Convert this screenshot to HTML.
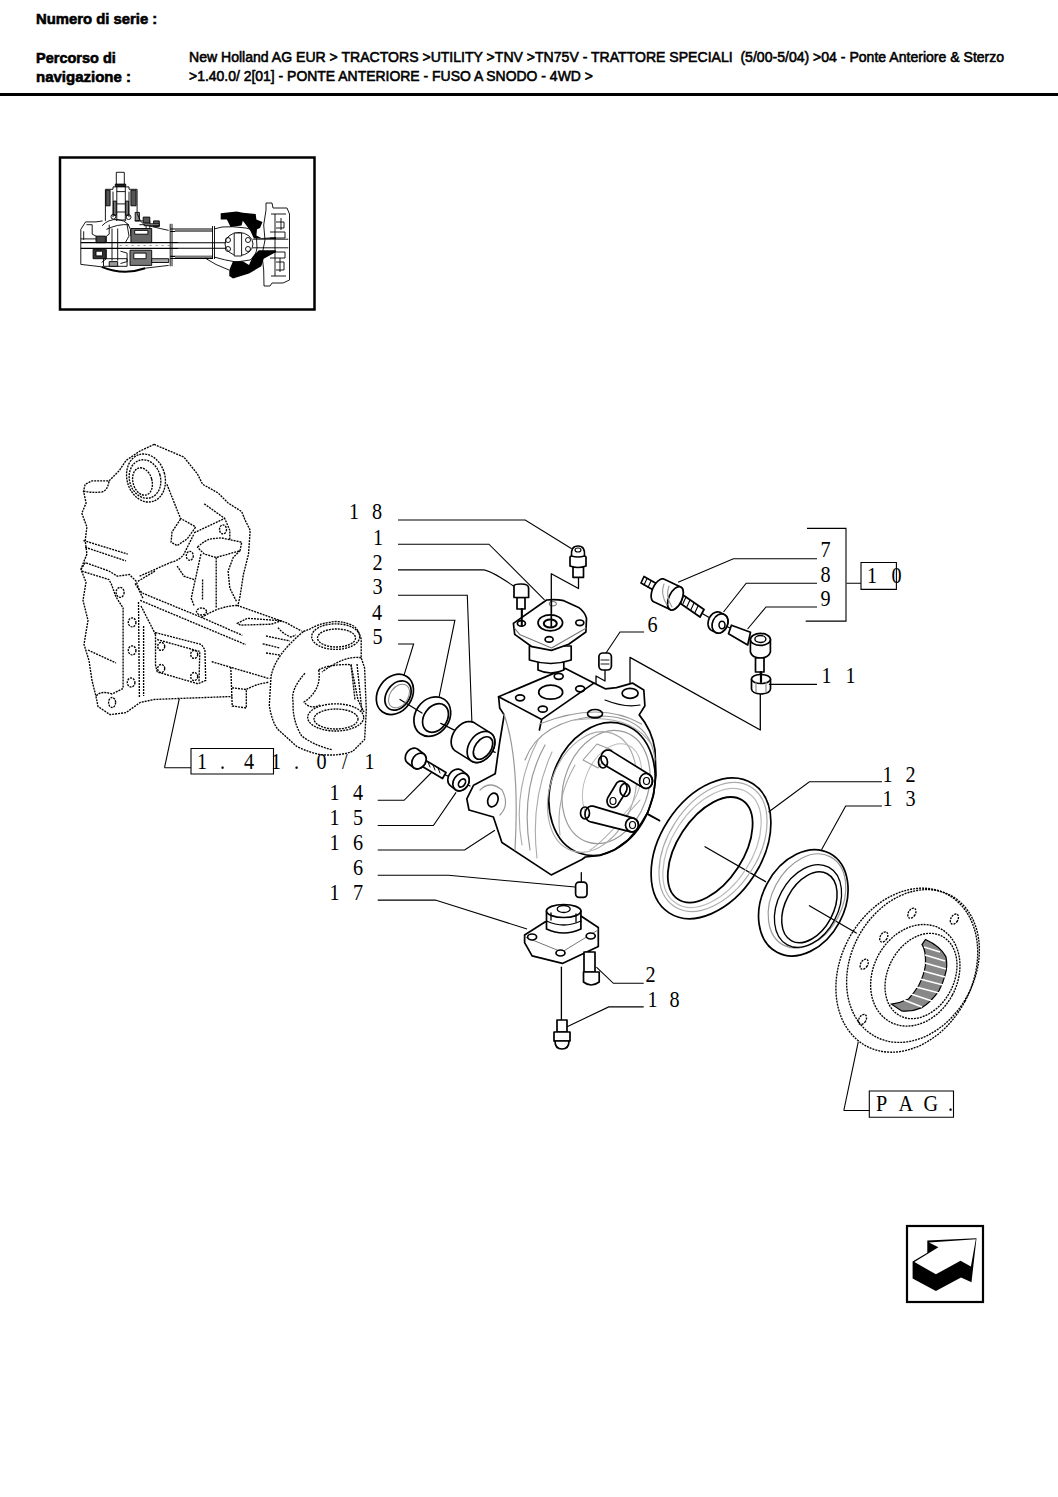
<!DOCTYPE html>
<html><head><meta charset="utf-8">
<style>
html,body{margin:0;padding:0;background:#fff;width:1058px;height:1497px;overflow:hidden;position:relative}
.t{position:absolute;white-space:pre;font-family:"Liberation Sans",sans-serif;font-size:15px;line-height:17px;color:#000;transform-origin:0 0;-webkit-text-stroke:0.6px #000}
.b{font-weight:bold}
#rule{position:absolute;left:0;top:93px;width:1058px;height:3px;background:#000}
svg{position:absolute;left:0;top:0}
</style></head><body>
<span class="t b" style="left:36px;top:10px;transform:scaleX(0.99)">Numero di serie :</span>
<span class="t b" style="left:36px;top:49px;transform:scaleX(0.968)">Percorso di</span>
<span class="t b" style="left:36px;top:68px;transform:scaleX(0.999)">navigazione :</span>
<span class="t" style="left:189px;top:48px;transform:scaleX(0.937)">New Holland AG EUR &gt; TRACTORS &gt;UTILITY &gt;TNV &gt;TN75V - TRATTORE SPECIALI  (5/00-5/04) &gt;04 - Ponte Anteriore &amp; Sterzo</span>
<span class="t" style="left:189px;top:67px;transform:scaleX(0.93)">&gt;1.40.0/ 2[01] - PONTE ANTERIORE - FUSO A SNODO - 4WD &gt;</span>
<div id="rule"></div>
<svg width="1058" height="1497" viewBox="0 0 1058 1497">
<!-- thumbnail frame -->
<g id="thumb">
<path d="M60,157.5 H314.5 V309.5 H60 Z" fill="none" stroke="#000" stroke-width="2.5"/>
<g fill="none" stroke="#000" stroke-width="0.9">
<!-- pinion -->
<g stroke="#000" stroke-width="0.9" fill="none">
<path d="M116.3,172.3 H124.3 V184.5 H116.3 Z"/>
<path d="M115.3,184.1 H125.7 V186.4 H115.3 Z" fill="#222"/>
<path d="M116.8,186.4 L116.8,220.9"/>
<path d="M125.3,186.4 L125.3,220.9"/>
<path d="M116.8,191.6 L125.3,191.6"/>
<path d="M116.8,203.9 L125.3,203.9"/>
<path d="M116.8,212.0 L125.3,212.0"/>
<path d="M115.8,220.0 L126.2,220.0"/>
<path d="M105.4,220.9 L105.4,189.3 L113.0,189.3 L113.0,186.9 L129.0,186.9 L129.0,189.3 L137.1,189.3 L137.1,213.4"/>
<path d="M105.9,190.2 H110.1 V205.8 H105.9 Z" fill="#555"/>
<path d="M130.9,190.2 H136.1 V205.8 H130.9 Z" fill="#555"/>
<path d="M113.0,191.6 L113.0,217.1"/>
<path d="M129.0,191.6 L129.0,217.1"/>
<path d="M113.4,201.1 H116.3 V215.3 H113.4 Z" fill="#777"/>
<path d="M125.7,201.1 H128.6 V215.3 H125.7 Z" fill="#777"/>
<circle cx="113.4" cy="216.7" r="2.4"/>
<circle cx="128.6" cy="217.1" r="2.4"/>
<path d="M135.2,212.4 H139.4 V220.9 H135.2 Z" fill="#888"/>
<path d="M102.1,225.7 Q108.2,219.0 117.7,219.5 Q131.9,220.9 130.9,236.1"/>
<path d="M106.4,229.4 Q117.7,223.8 129.0,224.7"/>
<path d="M109.2,224.7 L109.2,234.2 L106.4,236.1 L106.4,242.7"/>
<path d="M127.1,224.7 L129.0,236.1 L125.3,242.7"/>
<path d="M130.9,228.5 H151.7 V242.7 H130.9 Z" fill="#666"/>
<path d="M134.7,230.4 H147.9 V234.2 H134.7 Z" fill="#fff"/>
<path d="M130.0,250.2 H151.7 V265.4 H130.0 Z" fill="#777"/>
<path d="M133.8,253.1 H146.1 V258.7 H133.8 Z" fill="#fff"/>
<path d="M134.7,220.9 L149.8,220.9 L149.8,228.5"/>
<path d="M139.4,224.7 L146.1,224.7 L146.1,228.5"/>
<path d="M80.8,264.4 L80.8,229.4 L85.6,221.9 L96.0,221.9 L102.6,220.9"/>
<path d="M86.5,224.7 L92.2,224.7 L92.2,234.2 L96.0,236.1"/>
<path d="M96.0,236.1 H105.4 V242.7 H96.0 Z" fill="#444"/>
<path d="M93.1,249.3 H105.4 V258.7 H93.1 Z" fill="#333"/>
<path d="M96.0,251.2 H102.6 V255.9 H96.0 Z" fill="#fff"/>
<path d="M83.7,231.3 L83.7,239.8"/>
<path d="M80.8,238.9 L96.0,238.9"/>
<path d="M106.4,249.3 L106.4,258.7 L101.6,262.5"/>
<path d="M112.0,228.5 L112.0,260.6"/>
<path d="M117.7,228.5 L117.7,260.6"/>
<path d="M103.5,258.7 H127.1 V266.3 H103.5 Z"/>
<path d="M109.2,261.6 H117.7 V266.3 H109.2 Z" fill="#999"/>
<path d="M120.5,251.2 L127.1,253.1 L127.1,261.6 L120.5,263.5"/>
<path d="M101.6,266.8 Q123.4,275.8 145.1,268.2" stroke-width="2"/>
<path d="M80.8,264.4 L101.6,266.8"/>
<path d="M145.1,268.2 L168.7,265.4"/>
<path d="M137.1,213.4 L140.4,220.9 L144.2,224.7 L160.2,228.5 L168.7,230.4"/>
<path d="M143.2,217.1 H149.8 V222.8 H143.2 Z" fill="#555"/>
<path d="M153.6,220.9 H159.3 V226.6 H153.6 Z" fill="#555"/>
<path d="M144.2,223.8 H159.3 V225.7 H144.2 Z" fill="#999"/>
<path d="M80.8,242.7 L178.0,242.7" stroke-width="1.2"/>
<path d="M80.8,248.3 L178.0,248.3" stroke-width="1.2"/>
<path d="M119.6,245.5 L170.6,245.5" stroke="#888" stroke-dasharray="2 4"/>
<path d="M170.2,223.8 L170.2,266.3"/>
<path d="M172.0,223.8 L172.0,266.3"/>
<path d="M151.7,258.7 H168.7 V262.5 H151.7 Z" fill="#aaa"/>
</g>
<!-- tube -->
<path d="M178,242.7 H226 M178,248.3 H226" stroke-width="1.1"/>
<path d="M170.2,229 H213 M170.2,231.5 H213 M170.2,256.4 H213 M170.2,258.5 H213" stroke-width="1.1"/>
<path d="M175,230 H213 V232 H175 Z" fill="#777" stroke="none"/>
<path d="M175,256 H213 V258 H175 Z" fill="#777" stroke="none"/>
<path d="M212.5,226 V259 M214.5,226 V259"/>
<!-- joint housing -->
<path d="M214,229 L222,227 Q232,226 246,228 L253,230 Q258,238 257,248 Q256,256 250,260 L236,262 Q224,260 214,257"/>
<ellipse cx="239" cy="244" rx="14" ry="11.5"/>
<path d="M234.2,233 H241.6 V256 H234.2 Z" fill="#fff"/>
<circle cx="228" cy="240" r="2.5"/><circle cx="228" cy="249" r="2.5"/>
<circle cx="248" cy="240" r="2.5"/><circle cx="248" cy="249" r="2.5"/>
<path d="M252.7,239.2 H288.3 M252.7,247.8 H288.3"/>
<path d="M205,258 Q215,265 229,270"/>
<!-- hub -->
<path d="M266,203 H272 L273,208 H287 L289.5,214 V280 L283,283 H272 L270,286 H264 L263.7,270 L262,255 L265,240 L263.7,225 L266,210 Z"/>
<path d="M271,214 H286 M271,276 H286 M275,214 V276 M281,218 V230 M280,258 V272"/>
<path d="M270,232 H285 V238 H270 M270,252 H285 V258 H270"/>
<path d="M276,222 H284 V228 H276 M276,262 H284 V270 H276"/>
</g>
<!-- black knuckle blobs -->
<path d="M220.7,213.3 L236.7,211.5 L242.8,212.7 L255.7,214 L256.4,219.5 L262.5,222 L260,228 L257,229.3 L256.4,235.5 L261.3,237.9 L276,237.3 L276,239 L253.9,238.5 L250.2,230.5 L242.8,220.7 L241.6,225.6 L230.6,226.9 L226.9,219.5 L220.7,219.5 Z" fill="#000"/>
<path d="M229.3,269.9 L233,261.3 L242.8,261.3 L249,265 L252.7,256.4 L258.8,250.2 L276,250.2 L276,252 L263.7,258.8 L261.3,266.2 L249,273.6 L233,278.5 L229.3,276 Z" fill="#000"/>
</g>


<!-- housing (dotted) -->
<g id="housing" fill="none" stroke="#000" stroke-width="1.35" stroke-dasharray="2 1" stroke-linejoin="round">
<path d="M154.1,444.4 L183.9,457.1 L197.5,474.1 L202.6,484.3 L217.9,492.8 L228.1,503 L241.7,511.6 L245.1,520.1 L250.2,530.3 L248.5,554.1 L243.4,574.5 L240,596.6 L237.8,605.6 L286,622.6 L301.6,631.1"/>
<path d="M154.1,444.4 L139.6,451.2 L126,460.5 L119.2,470.7 L109,480.9 L92,480.9 L85.2,484.3 L83.5,491.1 L86.1,503 L81.8,513.3 L86.9,526.9 L85.2,540.5 L86.9,554.1 L83.5,562.6 L81,569.4 L86,582.3 L83,600.3 L88,620.4 L84,644.4 L89,660.5 L92,680.5 L96,696.5 L98,706.5 L110,714.6 L126.1,712.6 L140.1,702.5 L154.2,699.5 L178.2,698.5 L232.3,696.5"/>
<path d="M83.5,491.1 Q92,493 102,492 Q108,490 109,480.9"/>
<ellipse cx="146" cy="478" rx="19" ry="24.4" transform="rotate(-16 146 478)"/>
<ellipse cx="145" cy="479" rx="15.5" ry="19.5" transform="rotate(-16 145 479)"/>
<ellipse cx="142.5" cy="481.5" rx="9.5" ry="14" transform="rotate(-16 142.5 481.5)"/>
<path d="M166.9,484.3 L180.5,518.4 L195.8,526.9"/>
<path d="M180.5,519.2 L172,532 L171.1,542.2 L177.1,545.6 L187.3,538.8 L195.8,526.9"/>
<path d="M204.3,503.9 L224.7,518.4"/>
<path d="M194.1,532.8 L224.7,518.4 L229.8,530.3 L229.8,540.5"/>
<ellipse cx="223" cy="529.4" rx="3.5" ry="4.5"/>
<path d="M170.3,562.6 Q180,560 183.9,554.1 L194.1,533.7"/>
<ellipse cx="189.8" cy="555.8" rx="3.5" ry="4.5"/>
<path d="M177.1,566 L183.9,576.2 L194.1,579.6"/>
<path d="M197.5,547.3 Q205,540 211.1,538.8 L221.3,537.9 L241.7,542.2 L240,550.7 L216.2,557.5 L204.3,554.1 Z"/>
<path d="M216.2,557.5 L216.2,608"/>
<path d="M200.9,554.1 L191.2,598.3 L194.2,605.9"/>
<path d="M202.6,579.6 L202.5,600"/>
<path d="M240,550.7 L233.2,557.5 L228.1,571.1 L229.8,588.1 L236.6,601.7"/>
<path d="M83.5,540.5 L127.7,554.1 M85.2,547.3 L126,560.9"/>
<path d="M81,569.4 L85.2,562.6 L109,571.1 L117.5,576.2 L129.4,574.5 L136.2,581.3 L139.6,591.5 L143,598.3"/>
<path d="M81.8,571.1 L109,579.6 L111.6,584.7 L115.8,596.6 L123.1,608 L123.1,688.5 L112,694 Q100,690 96,696.5"/>
<path d="M139.6,576.2 L170.3,562.6 M137.9,581.3 L155,571.1"/>
<path d="M135.1,583.4 Q140,592 143.6,593.6 L201.5,617.4 L242.3,635.3"/>
<path d="M201.5,617.4 Q222,605 238.9,605.5"/>
<path d="M140.2,600.4 L245.7,644.6"/>
<path d="M138.5,602.1 L139.4,698"/>
<path d="M143.6,626 L143.6,696"/>
<path d="M141,606 L155.5,634.4"/>
<path d="M211.7,661.7 L269.5,678.7"/>
<path d="M237.2,623.4 L247.4,618.3 L271.2,620 L281.4,620.8 L271.2,624.2 L240.6,625.1 Z"/>
<path d="M278,627.6 Q283,634 291,637 L296,635 M266,636 L290,641 M262.7,643.8 L279.7,648 M266,653 L279.7,655"/>
<ellipse cx="120.1" cy="592.4" rx="4" ry="5"/>
<ellipse cx="132.1" cy="622.4" rx="3.8" ry="4.5"/>
<ellipse cx="132.1" cy="650.4" rx="3.8" ry="4.5"/>
<ellipse cx="131.1" cy="682.5" rx="3.8" ry="4.5"/>
<ellipse cx="112.1" cy="702.5" rx="3.5" ry="5"/>
<ellipse cx="201.5" cy="611.5" rx="5" ry="3.5"/>
<path d="M155.5,632.7 L201.5,644.6 L204.9,649.8 L205.7,680.4 L198,683.8 L157.2,671.9 L155.5,665 Z"/>
<path d="M157.2,639.5 L199.8,651.5 L199,682"/>
<ellipse cx="161.2" cy="646.4" rx="3.5" ry="4"/>
<ellipse cx="194.2" cy="654.4" rx="3.5" ry="4"/>
<ellipse cx="161.2" cy="668.5" rx="3.5" ry="4"/>
<ellipse cx="194.2" cy="676.5" rx="3.5" ry="4"/>
<path d="M88,650 L116,663"/>
<path d="M230.8,667 L232.2,706 L246.3,708 L246.3,689.5 Q256,684 268.9,682.2"/>
<path d="M232,687.8 L246.3,689.5"/>
<!-- yoke / trumpet -->
<path d="M303.4,631.5 Q275,655 271,676.6 L269.3,705.5 Q272,722 277.8,729.3 L296.6,746.3 Q310,753 322,754.8 Q340,756 352.7,751.4 L364.6,739.5 L366.3,710.6 L364.6,668 L361.2,657.8 L361.2,639.1 Q358,628 352.7,625.5 Q340,620 330.6,622.1 Q318,624 310.2,628.9 Z"/>
<ellipse cx="335.7" cy="636.6" rx="24" ry="12.8"/>
<ellipse cx="336.5" cy="638" rx="19" ry="9"/>
<ellipse cx="335.7" cy="717.4" rx="28" ry="13.6"/>
<ellipse cx="336" cy="719" rx="22" ry="10"/>
<path d="M361.2,657.8 Q345,655 322,672 M305,673.2 Q290,690 293.2,702 Q292,720 301.7,736 Q315,746 332.3,749.7"/>
<path d="M318.7,669.8 Q330,664 351,664.6 L358,700 L364,712"/>
<path d="M318.7,669.8 Q322,690 304,702 Q310,710 320,705"/>
<path d="M351,664.6 L355,700 M357,664 L362,712"/>
</g>

<!-- parts (solid) -->
<g id="parts" fill="#fff" stroke="#000" stroke-width="1.7" stroke-linejoin="round" stroke-linecap="round">
<!-- axis lines -->
<g fill="none" stroke-width="1.3">
<path d="M578.5,577 L578.5,588.5 L551.3,573.7 L551.3,627"/>
<path d="M521.8,609 L521.8,623.6"/>
<path d="M551.3,672 L551.3,698"/>
<path d="M605,670 V681 L596,676 V712"/>
<path d="M630,693 L630,657.4 L760.3,730 L760.3,694.3"/>
<path d="M400,699.5 L422,713 M440.8,723.4 L454.4,730.2 M478.2,745.5 L495.2,752.3"/>
<path d="M444.2,774.4 L452,778 M462,782 L470,786"/>
<path d="M586,769.3 L618.8,785.2 M623.3,800 L659.6,820.4"/>
<path d="M640,810.5 L659.7,821 M705,846.8 L765.5,881.6 M809.4,905.8 L856.3,933"/>
<path d="M581.3,872.7 L581.3,883"/>
<path d="M561.4,967.2 L561.4,1020.1"/>
<path d="M590,946 L590,955"/>
<path d="M702.2,613.5 L710,618 M726,626 L734,630"/>
<path d="M760.3,671.6 L760.3,676"/>
</g>
<!-- seal 5 -->
<ellipse cx="394.9" cy="694.4" rx="17" ry="21.5" transform="rotate(35 394.9 694.4)" fill="none"/>
<ellipse cx="398" cy="695.5" rx="11.5" ry="16" transform="rotate(35 398 695.5)" fill="none"/>
<ellipse cx="399" cy="696" rx="9" ry="13" transform="rotate(35 399 696)" fill="none" stroke="#888" stroke-width="1"/>
<!-- seal 4 -->
<ellipse cx="432.3" cy="716.6" rx="17" ry="21" transform="rotate(35 432.3 716.6)" fill="none"/>
<ellipse cx="435.5" cy="718" rx="11.5" ry="15.5" transform="rotate(35 435.5 718)" fill="none"/>
<!-- bushing 3 -->
<path d="M451.2,740.7 L451.6,738.0 L452.4,735.3 L453.6,732.6 L455.2,730.1 L457.0,727.8 L459.1,725.8 L461.4,724.1 L463.7,722.8 L466.2,721.9 L468.5,721.5 L470.8,721.6 L472.9,722.1 L474.8,723.1 L490.8,733.1 L492.3,734.5 L493.5,736.3 L494.4,738.4 L494.8,740.8 L494.8,743.3 L494.4,746.0 L493.6,748.7 L492.4,751.4 L490.8,753.9 L489.0,756.2 L486.9,758.2 L484.6,759.9 L482.3,761.2 L479.8,762.1 L477.5,762.5 L475.2,762.4 L473.1,761.9 L471.2,760.9 L455.2,750.9 L453.7,749.5 L452.5,747.7 L451.6,745.6 L451.2,743.2 Z"/>
<ellipse cx="481" cy="747" rx="12" ry="17" transform="rotate(35 481 747)"/>
<ellipse cx="483" cy="748" rx="8" ry="12.5" transform="rotate(35 483 748)" fill="none"/>
<!-- bolt 14 -->
<path d="M420,757 L446,772.5 L442.5,778.5 L416.5,763 Z"/>
<path d="M428,762 L430,767 M433,765 L435,770 M438,768 L440,773" fill="none" stroke-width="1"/>
<path d="M405.3,757.6 L405.5,756.3 L405.8,754.9 L406.4,753.5 L407.2,752.3 L408.1,751.1 L409.2,750.1 L410.3,749.3 L411.6,748.7 L412.8,748.3 L414.1,748.1 L415.3,748.2 L416.4,748.5 L417.4,749.0 L423.9,754.0 L424.7,754.8 L425.4,755.7 L425.9,756.8 L426.2,758.1 L426.2,759.4 L426.0,760.7 L425.7,762.1 L425.1,763.5 L424.3,764.7 L423.4,765.9 L422.3,766.9 L421.2,767.7 L419.9,768.3 L418.7,768.7 L417.4,768.9 L416.2,768.8 L415.1,768.5 L414.1,768.0 L407.6,763.0 L406.8,762.2 L406.1,761.3 L405.6,760.2 L405.3,758.9 Z"/>
<ellipse cx="419" cy="761" rx="6.5" ry="8.5" transform="rotate(35 419 761)"/>
<!-- nut 15 -->
<path d="M447.8,779.7 L448.0,778.2 L448.4,776.6 L449.0,775.1 L449.9,773.7 L450.9,772.4 L452.1,771.3 L453.4,770.4 L454.8,769.7 L456.2,769.3 L457.6,769.1 L459.0,769.2 L460.3,769.6 L461.4,770.2 L466.4,774.2 L467.4,775.1 L468.2,776.2 L468.8,777.4 L469.1,778.8 L469.2,780.3 L469.0,781.8 L468.6,783.4 L468.0,784.9 L467.1,786.3 L466.1,787.6 L464.9,788.7 L463.6,789.6 L462.2,790.3 L460.8,790.7 L459.4,790.9 L458.0,790.8 L456.7,790.4 L455.6,789.8 L450.6,785.8 L449.6,784.9 L448.8,783.8 L448.2,782.6 L447.9,781.2 Z"/>
<ellipse cx="461" cy="782" rx="7.5" ry="9.5" transform="rotate(35 461 782)"/>
<ellipse cx="462" cy="783" rx="3" ry="4.5" transform="rotate(35 462 783)" fill="none"/>
<!-- knuckle body -->
<path d="M498.6,696.7 L565.5,668.4 L593.8,683.1 L605.2,688.8 L616.5,687.6 L632.4,683.1 L643.8,689.9 L644.9,705.8 L639.2,714.9 Q652,730 655,750 L656,775 L653.5,795 L648,812 L639,827 L628,840 L615,849.5 L600,855.5 L585.3,857 L581.9,859.5 L551.2,874.9 L501.9,842.5 L493.4,817 L469,810 L466.8,798.8 L473.6,785.2 L495.2,773.8 L499.7,742 L504.2,714.9 L499.7,708 Z"/>
<path d="M498.6,696.7 L541.7,719.4 L593.8,683.1 M541.7,719.4 L539.4,730" fill="none"/>
<path d="M539.4,724 Q600,700 641.5,724" fill="none" stroke="#999" stroke-width="1.2"/>
<path d="M504,714 Q520,760 515,850" fill="none" stroke="#999" stroke-width="1.2"/>
<path d="M480,790 Q490,780 502,790 Q510,805 500,815" fill="none" stroke="#999" stroke-width="1.2"/>
<ellipse cx="492.9" cy="800" rx="5" ry="7" transform="rotate(20 492.9 800)" fill="none"/>
<path d="M525,760 Q540,720 600,716 Q650,716 655,760" fill="none" stroke="#999" stroke-width="1.2"/>
<path d="M530,850 Q520,790 545,745" fill="none" stroke="#999" stroke-width="1.2"/>
<path d="M522,845 Q512,790 538,740 M537,858 Q530,800 552,752 M575,720 Q630,712 652,745" fill="none" stroke="#aaa" stroke-width="1.1"/>
<path d="M560,835 Q555,800 575,765 M590,850 Q600,845 640,800" fill="none" stroke="#aaa" stroke-width="1.1"/>
<ellipse cx="520.1" cy="697.8" rx="4.5" ry="3" fill="none"/>
<ellipse cx="542.8" cy="709.2" rx="4.5" ry="3" fill="none"/>
<ellipse cx="580.2" cy="688.8" rx="4.5" ry="3" fill="none"/>
<ellipse cx="558.7" cy="676.3" rx="4.5" ry="3" fill="none"/>
<ellipse cx="550.7" cy="692.2" rx="12" ry="7" fill="none"/>
<ellipse cx="595" cy="713.7" rx="7.5" ry="4.2" fill="none"/>
<ellipse cx="630.1" cy="693.3" rx="8" ry="5" fill="none"/>
<path d="M605,700 Q625,708 640,705" fill="none" stroke-width="1.2"/>
<!-- bore -->
<ellipse cx="602" cy="789" rx="51" ry="68" transform="rotate(19 602 789)" fill="none" stroke-width="1.7"/>
<ellipse cx="606" cy="787" rx="42" ry="58" transform="rotate(19 606 787)" fill="none" stroke="#999" stroke-width="1.2"/><ellipse cx="592" cy="792" rx="42" ry="62" transform="rotate(19 592 792)" fill="none" stroke="#aaa" stroke-width="1.1"/>
<ellipse cx="612" cy="784" rx="27" ry="42" transform="rotate(22 612 784)" fill="none" stroke="#bbb" stroke-width="1"/>
<!-- pins -->
<path d="M583,760 L597,744 L612,750 L598,768 Z" fill="none" stroke="#999" stroke-width="1.1"/>
<path d="M601.0,758.0 L601.1,756.6 L601.4,755.3 L601.9,754.0 L602.6,752.9 L603.5,751.9 L604.5,751.1 L605.6,750.5 L606.8,750.1 L608.0,750.0 L609.2,750.1 L610.4,750.5 L611.5,751.1 L649.2,774.5 L650.2,775.3 L651.0,776.2 L651.6,777.2 L652.1,778.4 L652.4,779.7 L652.5,781.0 L652.4,782.3 L652.1,783.6 L651.6,784.8 L651.0,785.8 L650.2,786.7 L649.2,787.5 L648.2,788.0 L647.1,788.4 L646.0,788.5 L644.9,788.4 L643.8,788.0 L642.8,787.5 L604.5,764.9 L603.5,764.1 L602.6,763.1 L601.9,762.0 L601.4,760.7 L601.1,759.4 Z"/>
<ellipse cx="603" cy="762" rx="4.5" ry="6" fill="none"/>
<ellipse cx="646" cy="781" rx="6.5" ry="7.5" fill="none"/>
<ellipse cx="646.5" cy="781" rx="3" ry="3.5" fill="none" stroke-width="1.2"/>
<path d="M607.0,801.0 L607.1,799.9 L607.4,798.8 L607.8,797.8 L616.4,783.5 L617.1,782.6 L618.0,781.9 L618.9,781.4 L620.0,781.1 L621.0,781.0 L622.0,781.1 L623.1,781.4 L624.0,781.9 L624.9,782.6 L625.6,783.5 L626.2,784.5 L626.6,785.6 L626.9,786.8 L627.0,788.0 L626.9,789.2 L626.6,790.4 L626.2,791.5 L625.6,792.5 L618.2,804.2 L617.6,805.2 L616.9,806.0 L616.0,806.6 L615.1,807.1 L614.0,807.4 L613.0,807.5 L612.0,807.4 L610.9,807.1 L610.0,806.6 L609.1,806.0 L608.4,805.2 L607.8,804.2 L607.4,803.2 L607.1,802.1 Z"/>
<ellipse cx="625" cy="790" rx="5" ry="6.5" fill="none"/>
<ellipse cx="613" cy="801" rx="3" ry="3.5" fill="none" stroke-width="1.2"/>
<path d="M585.0,814.0 L585.1,812.6 L585.4,811.3 L585.9,810.0 L586.6,808.9 L587.5,807.9 L588.5,807.1 L589.6,806.5 L590.8,806.1 L592.0,806.0 L593.2,806.1 L634.2,818.4 L635.2,818.9 L636.2,819.6 L637.0,820.5 L637.6,821.5 L638.1,822.6 L638.4,823.8 L638.5,825.0 L638.4,826.2 L638.1,827.4 L637.6,828.5 L637.0,829.5 L636.2,830.4 L635.2,831.1 L634.2,831.6 L633.1,831.9 L632.0,832.0 L630.9,831.9 L590.8,821.9 L589.6,821.5 L588.5,820.9 L587.5,820.1 L586.6,819.1 L585.9,818.0 L585.4,816.7 L585.1,815.4 Z"/>
<ellipse cx="585" cy="813" rx="4.5" ry="6" fill="none"/>
<ellipse cx="632" cy="825" rx="6.5" ry="7" fill="none"/>
<ellipse cx="632.5" cy="825" rx="3" ry="3.5" fill="none" stroke-width="1.2"/>
<!-- plug 6 top -->
<rect x="598.9" y="653" width="12.5" height="17" rx="4"/>
<path d="M601,660 H609 M601,664 H609" fill="none" stroke-width="0.9"/>
<!-- plug 6 lower -->
<rect x="575.6" y="882.1" width="11.4" height="15.2" rx="3.5"/>
<!-- grease nipple 18 top -->
<path d="M573,566.9 H583.5 V577.3 H573 Z"/>
<path d="M570,557 Q570,555.5 578,555.5 Q586,555.5 586,557 V566 Q578,569 570,566 Z"/>
<path d="M571.5,556 Q570.5,546 578,546 Q585.5,546 584.5,556 Q578,558 571.5,556 Z"/>
<ellipse cx="578" cy="550" rx="3" ry="2" fill="none" stroke-width="1.1"/>
<!-- bolt 2 top -->
<path d="M517,597.5 H525 V609 H517 Z"/>
<path d="M514,586 Q514,584 521,584 Q528.6,584 528.6,588 V597.5 H514 Z"/>
<!-- pin 1 flange -->
<path d="M538,660 H563.8 V670 Q551,676 538,670 Z"/>
<path d="M529.4,646 H571.2 V660 Q551,667 529.4,660 Z"/>
<path d="M513.4,623.4 L546.6,600 Q556,599 563.8,600.7 L578.6,607.4 Q585,612 586.5,618.5 L585.9,632 L568.7,644.3 L551.5,650.4 L531.9,646.7 L514.7,634.4 Z"/>
<path d="M514.7,628.3 L519.6,634.4 L551.5,648 L585.9,628.3" fill="none" stroke="#777" stroke-width="1.1"/>
<ellipse cx="550.3" cy="622.8" rx="12.3" ry="8" fill="none"/>
<ellipse cx="550.3" cy="623.5" rx="6.5" ry="4" fill="none" stroke-width="2"/>
<ellipse cx="521.4" cy="623.4" rx="4" ry="2.8" fill="none"/>
<ellipse cx="579.8" cy="622.8" rx="4" ry="2.8" fill="none"/>
<ellipse cx="549.1" cy="639.4" rx="4" ry="2.8" fill="none"/>
<ellipse cx="552.8" cy="603.7" rx="3.5" ry="2.2" fill="none" stroke="#777" stroke-width="1.1"/>
<path d="M551.3,600 V627" fill="none"/>
<path d="M521.8,609 V626" fill="none" stroke-width="2"/>
<!-- pin 17 lower -->
<path d="M524.6,935 L545.4,921.8 L581.3,916.2 L598.3,927.5 L598.3,946.4 L562.4,963.4 L532.1,955.9 L524.6,942.6 Z"/>
<path d="M525,937 L562,952 L598,930" fill="none" stroke="#777" stroke-width="1"/>
<ellipse cx="532.1" cy="937" rx="4.5" ry="3"/>
<ellipse cx="590.7" cy="936" rx="4.5" ry="3"/>
<ellipse cx="560.5" cy="953" rx="4.5" ry="3"/>
<path d="M546.5,911 V929 Q563.7,937 580.9,929 V911 Z"/>
<path d="M546.5,921 Q563.7,929 580.9,921" fill="none" stroke-width="1.3"/>
<ellipse cx="563.7" cy="911" rx="17.2" ry="6.5"/>
<ellipse cx="563.7" cy="909" rx="6.5" ry="3.5" fill="none" stroke-width="1.3"/>
<path d="M551,913 V920 M576,914 V922" fill="none" stroke-width="1.3"/>
<!-- bolt 2 lower -->
<path d="M584,952 H595 V972 H584 Z"/>
<path d="M583.5,972 H599.2 V982 Q591,988 583.5,982 Z"/>
<!-- nipple 18 lower -->
<path d="M557,1020 H567 V1032 H557 Z"/>
<path d="M554,1032 H570 V1041 H554 Z"/>
<path d="M555,1041 H569 Q569,1049 562,1049 Q555,1049 555,1041 Z"/>
<!-- tie rod 7 -->
<path d="M641,583 L644,576.5 L659,585 L656,591.5 Z"/>
<path d="M674,599 L678,591.5 L704,609.5 L700,617 Z" stroke-width="1.8"/>
<path d="M682,594 L679,600.5 M686,597 L683,603.5 M690,600 L687,606.5 M694,603 L691,609.5 M698,606 L695,612.5 M647,578.5 L644,585 M651,581 L648,587.5" fill="none" stroke-width="1.1"/>
<path d="M651.1,595.7 L651.3,593.8 L651.7,591.8 L652.3,589.8 L653.1,587.8 L654.1,585.8 L655.3,584.0 L656.5,582.5 L657.9,581.1 L659.3,580.1 L660.6,579.3 L661.9,578.9 L663.2,578.9 L664.3,579.2 L680.7,587.0 L681.6,587.6 L682.4,588.6 L682.9,589.9 L683.2,591.4 L683.3,593.1 L683.1,595.0 L682.7,597.0 L682.1,599.0 L681.3,601.0 L680.3,603.0 L679.1,604.8 L677.9,606.3 L676.5,607.7 L675.1,608.7 L673.8,609.5 L672.5,609.9 L671.2,609.9 L670.1,609.6 L653.7,601.8 L652.8,601.2 L652.0,600.2 L651.5,598.9 L651.2,597.4 Z"/>
<ellipse cx="675.4" cy="598.3" rx="6.5" ry="12.5" transform="rotate(25 675.4 598.3)"/>
<path d="M664,584 Q660,594 667,605 M669,586 Q665,596 672,607" fill="none" stroke="#999" stroke-width="1.1"/>
<!-- nut 8 -->
<path d="M708.0,623.3 L708.2,621.6 L708.6,620.0 L709.2,618.3 L710.0,616.8 L711.1,615.4 L712.2,614.2 L713.5,613.2 L714.9,612.5 L716.3,612.1 L717.6,611.9 L719.0,612.0 L720.2,612.4 L724.2,614.4 L725.3,615.1 L726.3,616.1 L727.1,617.2 L727.6,618.6 L727.9,620.1 L728.0,621.7 L727.8,623.4 L727.4,625.0 L726.8,626.7 L726.0,628.2 L724.9,629.6 L723.8,630.8 L722.5,631.8 L721.1,632.5 L719.7,632.9 L718.4,633.1 L717.0,633.0 L715.8,632.6 L711.8,630.6 L710.7,629.9 L709.7,628.9 L708.9,627.8 L708.4,626.4 L708.1,624.9 Z"/>
<ellipse cx="720" cy="623.5" rx="7.5" ry="10" transform="rotate(25 720 623.5)"/>
<ellipse cx="722" cy="625" rx="3" ry="3.8" fill="none" stroke-width="1.5"/>
<!-- ball joint 9 -->
<path d="M731.4,625.2 L750.5,632.3 L747.7,645 L728.5,633.7 Z"/>
<path d="M750.4,639.4 V652 Q752,658 760.4,658 Q768.5,658 770.4,652 V639.4 Z"/>
<ellipse cx="760.4" cy="639.4" rx="10" ry="6"/>
<ellipse cx="760.4" cy="639" rx="5.5" ry="3.5" fill="none" stroke-width="1.4"/>
<path d="M755.5,658 H764 V672 H755.5 Z"/>
<!-- nut 11 -->
<path d="M751.5,679 V689 Q752,693.5 761,694 Q770,693.5 770.5,689 V679 Z"/>
<ellipse cx="761" cy="679" rx="9.5" ry="4.5"/>
<path d="M756,682 V692 M766,682 V692" fill="none" stroke="#888" stroke-width="1.1"/>
<path d="M761,672 V682" fill="none" stroke-width="2.2"/>
<!-- seal 12 -->
<ellipse cx="711" cy="848.3" rx="51" ry="77" transform="rotate(33 711 848.3)" fill="none"/>
<ellipse cx="713" cy="847" rx="45" ry="71" transform="rotate(33 713 847)" fill="none" stroke="#aaa" stroke-width="1.2"/><ellipse cx="712" cy="848" rx="40" ry="66" transform="rotate(33 712 848)" fill="none" stroke="#bbb" stroke-width="1.2"/>
<ellipse cx="710.2" cy="849.8" rx="33" ry="59" transform="rotate(33 710.2 849.8)" fill="none" stroke-width="1.8"/>
<!-- seal 13 -->
<ellipse cx="803.3" cy="902.8" rx="41" ry="56" transform="rotate(28 803.3 902.8)" fill="none"/>
<ellipse cx="807" cy="901" rx="35" ry="50" transform="rotate(28 807 901)" fill="none" stroke="#999" stroke-width="1.2"/>
<ellipse cx="808" cy="906" rx="30" ry="44" transform="rotate(28 808 906)" fill="none" stroke-width="1.3"/>
<ellipse cx="809.4" cy="907.3" rx="24" ry="38" transform="rotate(28 809.4 907.3)" fill="none" stroke-width="1.5"/>
</g>
<!-- flange (dotted) -->
<g id="flange" fill="none" stroke="#000" stroke-width="1.35" stroke-dasharray="2 1">
<ellipse cx="906.8" cy="970.2" rx="66" ry="86" transform="rotate(28 906.8 970.2)"/>
<ellipse cx="913" cy="966" rx="62" ry="80" transform="rotate(28 913 966)"/>
<ellipse cx="915.3" cy="975.3" rx="42" ry="53" transform="rotate(28 915.3 975.3)"/>
<ellipse cx="921" cy="976" rx="33" ry="45" transform="rotate(28 921 976)"/>
<ellipse cx="911.9" cy="913.2" rx="3.5" ry="5.5" transform="rotate(30 911.9 913.2)"/>
<ellipse cx="954.4" cy="919.1" rx="3.5" ry="5.5" transform="rotate(30 954.4 919.1)"/>
<ellipse cx="883.8" cy="937" rx="3.5" ry="5.5" transform="rotate(30 883.8 937)"/>
<ellipse cx="864.2" cy="964.2" rx="3.5" ry="5.5" transform="rotate(30 864.2 964.2)"/>
<ellipse cx="862.5" cy="1019.5" rx="3.5" ry="5.5" transform="rotate(30 862.5 1019.5)"/>
<path d="M925.5,939.5 Q940,946 945.9,956.6 Q948,966 945,975.3 Q943,983 939,990.6 Q932,1001 922,1007.6 Q912,1012 901.7,1011 L891.5,1004.2 Q900,1003 908.5,999 Q914,993 918.7,985.5 Q924,975 925.5,965 Q926,950 922,944.6 Z" fill="#888" stroke-dasharray="none" stroke-width="1.2"/>
<path d="M924,947 L940,952 M925,955 L945,961 M925,963 L946,969 M923,971 L945,977 M920,979 L943,985 M916,987 L939,993 M911,994 L932,1001 M904,1000 L922,1007" stroke="#fff" stroke-width="1.6" stroke-dasharray="none"/>
</g>
<!-- labels -->
<g id="labels" font-family="Liberation Serif" font-size="23.5" fill="#000">
<text transform="translate(349 519) scale(0.86 1)">1</text><text transform="translate(372 519) scale(0.86 1)">8</text>
<text transform="translate(373 544.5) scale(0.86 1)">1</text>
<text transform="translate(372.5 569.5) scale(0.86 1)">2</text>
<text transform="translate(372.5 594) scale(0.86 1)">3</text>
<text transform="translate(372 619.5) scale(0.86 1)">4</text>
<text transform="translate(372.5 644) scale(0.86 1)">5</text>
<text transform="translate(329.5 800) scale(0.86 1)">1</text><text transform="translate(353 800) scale(0.86 1)">4</text>
<text transform="translate(329.5 824.5) scale(0.86 1)">1</text><text transform="translate(353 824.5) scale(0.86 1)">5</text>
<text transform="translate(329.5 850) scale(0.86 1)">1</text><text transform="translate(353 850) scale(0.86 1)">6</text>
<text transform="translate(353 874.5) scale(0.86 1)">6</text>
<text transform="translate(329.5 900) scale(0.86 1)">1</text><text transform="translate(353 900) scale(0.86 1)">7</text>
<text transform="translate(820.5 556.5) scale(0.86 1)">7</text>
<text transform="translate(820.5 582) scale(0.86 1)">8</text>
<text transform="translate(820.5 606) scale(0.86 1)">9</text>
<text transform="translate(867 583) scale(0.86 1)">1</text><text transform="translate(891.5 583) scale(0.86 1)">0</text>
<text transform="translate(821.5 683) scale(0.86 1)">1</text><text transform="translate(845.5 683) scale(0.86 1)">1</text>
<text transform="translate(647.5 632) scale(0.86 1)">6</text>
<text transform="translate(882.5 781.5) scale(0.86 1)">1</text><text transform="translate(905.5 781.5) scale(0.86 1)">2</text>
<text transform="translate(882.5 806) scale(0.86 1)">1</text><text transform="translate(905.5 806) scale(0.86 1)">3</text>
<text transform="translate(645.5 982) scale(0.86 1)">2</text>
<text transform="translate(647.5 1006.5) scale(0.86 1)">1</text><text transform="translate(669.5 1006.5) scale(0.86 1)">8</text>
<text transform="translate(876 1110.5) scale(0.86 1)">P</text><text transform="translate(898.5 1110.5) scale(0.86 1)">A</text><text transform="translate(923.5 1110.5) scale(0.86 1)">G</text><text transform="translate(948 1110.5) scale(0.86 1)">.</text>
<text transform="translate(197 769) scale(0.86 1)">1</text><text transform="translate(220 769) scale(0.86 1)">.</text><text transform="translate(244 769) scale(0.86 1)">4</text><text transform="translate(271 769) scale(0.86 1)">1</text><text transform="translate(294 769) scale(0.86 1)">.</text><text transform="translate(316.5 769) scale(0.86 1)">0</text><text transform="translate(342 769) scale(0.86 1)">/</text><text transform="translate(364.5 769) scale(0.86 1)">1</text>
</g>
<!-- label boxes & leaders -->
<g id="leaders" fill="none" stroke="#000" stroke-width="1.1">
<path d="M191,748.5 H273.5 V774 H191 Z"/>
<path d="M164.5,767.7 H191 M164.5,767.7 L179.3,698.7"/>
<path d="M861,562.5 H896.4 V589.4 H861 Z"/>
<path d="M807,528.4 H846 V621.1 H805.7 M846.8,583.2 H861"/>
<path d="M869.3,1091 H953.5 V1117.3 H869.3 Z"/>
<path d="M843.8,1110.5 H869.3 M843.8,1110.5 L858.3,1041.6"/>
<!-- left column leaders -->
<path d="M398,520 H525.2 L571.7,548.8"/>
<path d="M398,544.2 H488.9 L544.5,599.8"/>
<path d="M398,569.9 H483.2 Q490,570 513.8,586.2"/>
<path d="M398,595.3 H467.3 L471.9,722.3"/>
<path d="M398,620.2 H454.9 L439,697.4"/>
<path d="M398,644 H413.6 L403.8,675.8"/>
<path d="M377.7,800.3 H404.1 L431.5,772.5"/>
<path d="M377.7,825.5 H433.4 L456.1,792.4"/>
<path d="M377.7,850 H464.6 L494.9,830.2"/>
<path d="M377.7,875.2 H448.5 L575,887"/>
<path d="M377.7,900.1 H435.3 L527,929"/>
<!-- right leaders -->
<path d="M817,558.8 H733.4 L678.1,582.3"/>
<path d="M817,583.2 H746.2 L723.5,612"/>
<path d="M817,607 H766 L747.6,629"/>
<path d="M817,684.4 H768.9"/>
<path d="M644.1,632 H620 L606,653"/>
<path d="M882,781.8 H809.4 L768.6,812"/>
<path d="M882,806 H845.7 L821.5,849.8"/>
<path d="M643.7,983.3 H613.4 L596.4,967.2"/>
<path d="M643.7,1006.9 H608.7 L567.1,1026.7"/>
</g>
<!-- arrow icon -->
<g id="arrow">
<rect x="907" y="1226" width="76" height="76" fill="none" stroke="#000" stroke-width="2.2"/>
<path d="M927.3,1240.5 L976.5,1238.3 L971.5,1282.3 L961,1277.4 L935.9,1291 L912.6,1278.6 L912.6,1261.4 L927.3,1252.8 Z" fill="#000"/>
<path d="M914.4,1262 L935.9,1274.3 L960.5,1260.8 L970.9,1266.4 L975.8,1239.3 L929,1242.4 L938.4,1247.3 Z" fill="#fff"/>
</g>
</svg>
</body></html>
